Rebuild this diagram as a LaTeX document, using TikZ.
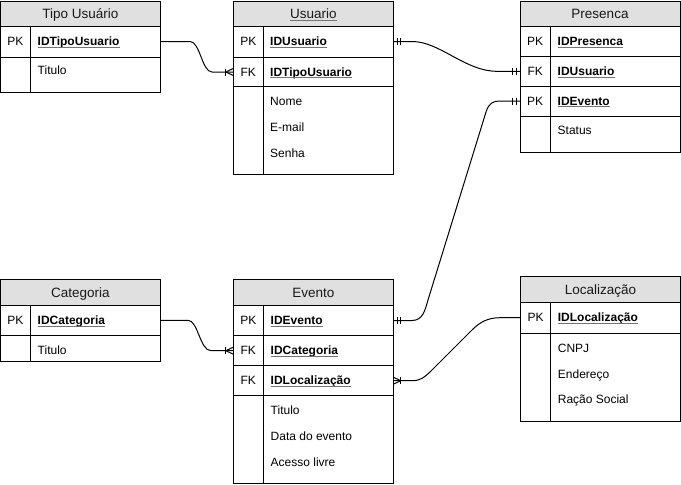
\documentclass[tikz,border=0pt]{standalone}
\usepackage{fontspec}
\setmainfont{Liberation Sans}
\definecolor{hdrfill}{RGB}{224,224,224}
\tikzset{
  tbl/.style={draw=black, line width=1pt},
  ttl/.style={font=\fontsize{13.5}{16}\selectfont, inner sep=0, anchor=base, text=black!90},
  lbl/.style={font=\fontsize{12}{14}\selectfont, inner sep=0, anchor=base},
  keyt/.style={font=\fontsize{12}{14}\selectfont\bfseries, inner sep=0, anchor=base west},
  attr/.style={font=\fontsize{12}{14}\selectfont, inner sep=0, anchor=base west},
  uline/.style={draw=black!55, line width=0.9pt},
  conn/.style={draw=black, line width=1pt},
  mk/.style={draw=black, line width=1pt},
}
\newcommand\keyrow[4]{%
  \node[keyt] (#1) at (#2,#3) {#4};
  \draw[uline] ([yshift=-1.8pt]#1.base west) -- ([yshift=-1.8pt]#1.base east);
}
\newcommand\onebars[2]{% coordinate, direction (+1 right of point, -1 left)
  \draw[mk] ([xshift=#2*4pt]#1) ++(0,-3.5) -- ++(0,7);
  \draw[mk] ([xshift=#2*7.5pt]#1) ++(0,-3.5) -- ++(0,7);
}
\newcommand\crowfoot[2]{% coordinate at entity edge, direction of line away from entity
  \draw[mk] ([xshift=#2*7.5pt]#1) ++(0,-3.5) -- ++(0,7);
  \draw[mk] ([xshift=#2*7.5pt]#1) -- ([yshift=3.5pt]#1);
  \draw[mk] ([xshift=#2*7.5pt]#1) -- ([yshift=-3.5pt]#1);
}
\begin{document}
\begin{tikzpicture}[x=1pt,y=-1pt]
\useasboundingbox (0,0) rectangle (681,485);

% ---------- Tipo Usuario ----------
\fill[hdrfill] (0.5,1) rectangle (160,26);
\draw[tbl] (0.5,1) rectangle (160,92);
\draw[tbl] (0.5,26) -- (160,26) (0.5,57) -- (160,57) (30.5,26) -- (30.5,92);
\node[ttl] (tipoT) at (80.3,18.4) {Tipo Usuário};
\node[lbl] (tipoL1) at (15.5,45.5) {PK};
\keyrow{tipoK1}{37.5}{45.5}{IDTipoUsuario}
\node[attr] (tipoA1) at (37.5,74.5) {Titulo};

% ---------- Usuario ----------
\fill[hdrfill] (233.3,1) rectangle (393.3,26);
\draw[tbl] (233.3,1) rectangle (393.3,174);
\draw[tbl] (233.3,26) -- (393.3,26) (233.3,57.3) -- (393.3,57.3) (233.3,86.7) -- (393.3,86.7) (263.3,26) -- (263.3,174);
\node[ttl] (usuTT) at (313.3,18.6) {Usuario};
\draw[uline] ([yshift=-1.9pt]usuTT.base west) -- ([yshift=-1.9pt]usuTT.base east);
\node[lbl] (usuL1) at (248.3,45.5) {PK};
\node[lbl] (usuL2) at (248.3,76) {FK};
\keyrow{usuK1}{270}{45.5}{IDUsuario}
\keyrow{usuK2}{270}{76}{IDTipoUsuario}
\node[attr] (usuA1) at (270,105) {Nome};
\node[attr] (usuA2) at (270,131) {E-mail};
\node[attr] (usuA3) at (270,157.5) {Senha};

% ---------- Presenca ----------
\fill[hdrfill] (520,1) rectangle (680,26);
\draw[tbl] (520,1) rectangle (680,152.7);
\draw[tbl] (520,26) -- (680,26) (520,56.7) -- (680,56.7) (520,86) -- (680,86) (520,116) -- (680,116) (550.3,26) -- (550.3,152.7);
\node[ttl] (preT) at (600,18.6) {Presenca};
\node[lbl] (preL1) at (535.2,45.3) {PK};
\node[lbl] (preL2) at (535.2,75.3) {FK};
\node[lbl] (preL3) at (535.2,105) {PK};
\keyrow{preK1}{557.5}{45.3}{IDPresenca}
\keyrow{preK2}{557.5}{75.3}{IDUsuario}
\keyrow{preK3}{557.5}{105}{IDEvento}
\node[attr] (preA1) at (557.5,134) {Status};

% ---------- Categoria ----------
\fill[hdrfill] (0.5,279.3) rectangle (160,305);
\draw[tbl] (0.5,279.3) rectangle (160,361.7);
\draw[tbl] (0.5,305) -- (160,305) (0.5,335.3) -- (160,335.3) (30.5,305) -- (30.5,361.7);
\node[ttl] (catT) at (80.3,297.7) {Categoria};
\node[lbl] (catL1) at (15.5,324.3) {PK};
\keyrow{catK1}{37.5}{324.3}{IDCategoria}
\node[attr] (catA1) at (37.5,354) {Titulo};

% ---------- Evento ----------
\fill[hdrfill] (233.3,279.3) rectangle (393.3,305);
\draw[tbl] (233.3,279.3) rectangle (393.3,483.3);
\draw[tbl] (233.3,305) -- (393.3,305) (233.3,335.7) -- (393.3,335.7) (233.3,365.7) -- (393.3,365.7) (233.3,395.7) -- (393.3,395.7) (263.3,305) -- (263.3,483.3);
\node[ttl] (eveT) at (313.3,297.7) {Evento};
\node[lbl] (eveL1) at (248.3,324.5) {PK};
\node[lbl] (eveL2) at (248.3,354.7) {FK};
\node[lbl] (eveL3) at (248.3,384.7) {FK};
\keyrow{eveK1}{270.5}{324.5}{IDEvento}
\keyrow{eveK2}{270.5}{354.7}{IDCategoria}
\keyrow{eveK3}{270.5}{384.7}{IDLocalização}
\node[attr] (eveA1) at (270.5,414) {Titulo};
\node[attr] (eveA2) at (270.5,440) {Data do evento};
\node[attr] (eveA3) at (270.5,466) {Acesso livre};

% ---------- Localizacao ----------
\fill[hdrfill] (520.7,276.7) rectangle (680,302.5);
\draw[tbl] (520.7,276.7) rectangle (680,421.7);
\draw[tbl] (520.7,302.5) -- (680,302.5) (520.7,333) -- (680,333) (550.7,302.5) -- (550.7,421.7);
\node[ttl] (locT) at (600.4,294.3) {Localização};
\node[lbl] (locL1) at (535.7,321.7) {PK};
\keyrow{locK1}{557.7}{321.7}{IDLocalização}
\node[attr] (locA1) at (557.7,352.5) {CNPJ};
\node[attr] (locA2) at (557.7,378) {Endereço};
\node[attr] (locA3) at (557.7,403.5) {Ração Social};

% ---------- connector end points ----------
\coordinate (tipoPK) at (160,41.5);
\coordinate (usuFK) at (233.3,72);
\coordinate (usuPK) at (393.3,41.5);
\coordinate (preFK) at (520,71.3);
\coordinate (evePK) at (393.3,320.5);
\coordinate (preEv) at (520,101);
\coordinate (catPK) at (160,320.3);
\coordinate (eveCat) at (233.3,350.7);
\coordinate (locPK) at (520.7,317.7);
\coordinate (eveLoc) at (393.3,380.7);

% ---------- connectors ----------
\draw[conn] (tipoPK) -- (190,41.5) .. controls (200,41.5) and (202,72) .. (212,72) -- (usuFK);
\crowfoot{usuFK}{-1}

\draw[conn] (usuPK) -- (412,41.5) .. controls (440,41.5) and (465,71.3) .. (497,71.3) -- (preFK);
\onebars{usuPK}{1}
\onebars{preFK}{-1}

\draw[conn] (evePK) -- (412,320.5) .. controls (423,320.5) and (425,310) .. (428,300) -- (486,112) .. controls (489,103) and (493,101) .. (500,101) -- (preEv);
\onebars{evePK}{1}
\onebars{preEv}{-1}

\draw[conn] (catPK) -- (188,320.3) .. controls (198,320.3) and (200,350.7) .. (211,350.7) -- (eveCat);
\crowfoot{eveCat}{-1}

\draw[conn] (locPK) -- (500,317.7) .. controls (488,317.7) and (480,322) .. (472,330) -- (432,370) .. controls (424,378) and (420,380.7) .. (412,380.7) -- (eveLoc);
\crowfoot{eveLoc}{1}
\end{tikzpicture}
\end{document}
